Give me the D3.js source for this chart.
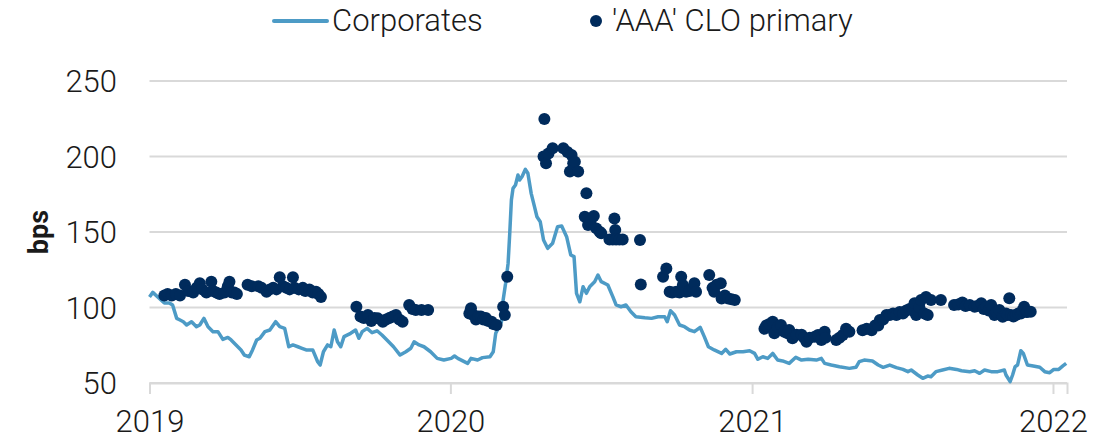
<!DOCTYPE html>
<html>
<head>
<meta charset="utf-8">
<script src="https://cdn.jsdelivr.net/npm/d3@7"></script>
<style>
  body { margin: 0; background: #fff; }
  svg text { font-family: Roboto, "Noto Sans", sans-serif; fill: #1a1a1a; font-weight: 300; }
</style>
</head>
<body>
<svg id="chart"></svg>
<script>
// Corporates spread, bps
var corpDates = [
  "2019-01-01","2019-01-05","2019-01-11","2019-01-19","2019-01-25","2019-01-29","2019-02-03","2019-02-07",
  "2019-02-11","2019-02-15","2019-02-21","2019-02-27","2019-03-03","2019-03-08","2019-03-13","2019-03-19",
  "2019-03-25","2019-03-31","2019-04-06","2019-04-10","2019-04-16","2019-04-22","2019-04-26","2019-05-02",
  "2019-05-06","2019-05-11","2019-05-15","2019-05-21","2019-05-27","2019-06-03","2019-06-08","2019-06-14",
  "2019-06-19","2019-06-24","2019-06-30","2019-07-05","2019-07-10","2019-07-18","2019-07-24","2019-07-27",
  "2019-07-31","2019-08-05","2019-08-09","2019-08-13","2019-08-17","2019-08-21","2019-08-25","2019-09-02",
  "2019-09-08","2019-09-12","2019-09-16","2019-09-22","2019-09-28","2019-10-04","2019-10-10","2019-10-16",
  "2019-10-24","2019-11-01","2019-11-08","2019-11-14","2019-11-18","2019-11-24","2019-11-30","2019-12-08",
  "2019-12-16","2019-12-24","2020-01-02","2020-01-06","2020-01-10","2020-01-22","2020-01-26","2020-02-03",
  "2020-02-09","2020-02-18","2020-02-22","2020-02-25","2020-02-29","2020-03-03","2020-03-05","2020-03-08",
  "2020-03-11","2020-03-13","2020-03-15","2020-03-17","2020-03-20","2020-03-23","2020-03-25","2020-03-28",
  "2020-04-01","2020-04-04","2020-04-08","2020-04-12","2020-04-15","2020-04-19","2020-04-23","2020-04-28",
  "2020-05-04","2020-05-10","2020-05-15","2020-05-21","2020-05-26","2020-05-30","2020-06-02","2020-06-06",
  "2020-06-10","2020-06-14","2020-06-18","2020-06-24","2020-06-28","2020-07-02","2020-07-10","2020-07-16",
  "2020-07-20","2020-07-26","2020-08-01","2020-08-07","2020-08-13","2020-08-24","2020-09-01","2020-09-09",
  "2020-09-17","2020-09-20","2020-09-24","2020-09-29","2020-10-05","2020-10-11","2020-10-17","2020-10-23",
  "2020-10-30","2020-11-04","2020-11-09","2020-11-16","2020-11-25","2020-11-30","2020-12-05","2020-12-13",
  "2020-12-21","2020-12-29","2021-01-04","2021-01-08","2021-01-14","2021-01-20","2021-01-26","2021-02-01",
  "2021-02-07","2021-02-15","2021-02-23","2021-03-02","2021-03-10","2021-03-20","2021-03-26","2021-03-30",
  "2021-04-07","2021-04-17","2021-04-29","2021-05-07","2021-05-11","2021-05-17","2021-05-27","2021-06-03",
  "2021-06-09","2021-06-17","2021-06-25","2021-07-03","2021-07-09","2021-07-13","2021-07-21","2021-07-27",
  "2021-08-02","2021-08-06","2021-08-12","2021-08-20","2021-08-28","2021-09-06","2021-09-12","2021-09-22",
  "2021-09-28","2021-10-04","2021-10-10","2021-10-18","2021-10-26","2021-11-03","2021-11-05","2021-11-10",
  "2021-11-13","2021-11-16","2021-11-19","2021-11-23","2021-11-26","2021-12-01","2021-12-08","2021-12-16",
  "2021-12-22","2021-12-28","2022-01-02","2022-01-08","2022-01-13","2022-01-17"
];
var corpValues = [
  107,110,107,103,103,101.6,92.8,91.7,
  90.6,88.4,90.6,87.3,88.4,92.8,87.3,84,
  84,78.9,80.2,78.5,75.2,71.9,68.5,67.4,
  71.9,78.5,79.6,84,85.1,90.6,87.3,86.2,
  74,75.2,74,73,71.9,71.9,64.1,61.9,
  70.7,75.2,74,85.1,77.3,74,80.7,82.9,
  85.1,79.6,84,86.2,83.3,84.6,81.8,78.5,
  74,68.5,70.7,73,77.3,75.2,74,70.7,
  66.3,65.2,66.3,67.9,66.3,63,66.3,65.2,
  66.8,67.4,70.7,82.9,87.3,90.6,105,116,
  129.2,149.1,171.2,178.9,181.1,187.8,184.4,186.7,
  191.5,188.9,175.6,166.8,160.1,156.8,144.7,139.2,
  142.5,153.5,154,146.9,134.8,133.7,109.4,103.8,
  113.8,109.4,113.8,117.1,121.5,117.1,114.9,107.2,
  101.7,100.5,101.7,97.2,93.9,93.2,92.8,93.9,
  93.9,90.6,97.9,95,88.4,87.3,85.1,84,
  86.9,80.7,74,71.9,69.6,72.3,69.2,70.7,
  70.7,71.4,69.6,65.7,67.4,66.3,69.6,65.2,
  64.6,63,67,65.2,65.7,65.2,66.3,63,
  61.9,60.8,59.7,60.4,64.1,65.2,64.6,61.9,
  60.4,61.9,60.2,59,57.5,58.6,55.3,53.1,
  54.6,54.2,57.5,58.6,59.7,59,58.1,57.5,
  58.1,56.4,58.6,57.5,57.5,58.6,55.3,50.9,
  55.3,60.8,61.9,71.4,69.6,61.9,61.3,60.4,
  57.5,56.8,59,59,61.3,63
];

// 'AAA' CLO primary, bps
var cloDates = [
  "2019-01-19","2019-01-23","2019-01-28","2019-02-02","2019-02-07","2019-02-13","2019-02-17","2019-02-23",
  "2019-02-27","2019-03-03","2019-03-06","2019-03-11","2019-03-17","2019-03-19","2019-03-23","2019-03-27",
  "2019-04-02","2019-04-06","2019-04-08","2019-04-11","2019-04-14","2019-04-17","2019-04-30","2019-05-05",
  "2019-05-13","2019-05-17","2019-05-23","2019-05-27","2019-05-31","2019-06-04","2019-06-08","2019-06-12",
  "2019-06-16","2019-06-20","2019-06-24","2019-06-26","2019-07-01","2019-07-06","2019-07-09","2019-07-14",
  "2019-07-18","2019-07-22","2019-07-25","2019-07-28",
  "2019-09-09","2019-09-14","2019-09-18","2019-09-23","2019-09-27","2019-10-01","2019-10-05","2019-10-11",
  "2019-10-15","2019-10-19","2019-10-23","2019-10-27","2019-10-31","2019-11-04","2019-11-12","2019-11-16",
  "2019-11-20","2019-11-27","2019-12-05",
  "2020-01-24","2020-01-26","2020-01-29","2020-02-01","2020-02-04","2020-02-07","2020-02-10","2020-02-13",
  "2020-02-16","2020-02-20","2020-02-22","2020-02-26","2020-03-05","2020-03-07","2020-03-10",
  "2020-04-23","2020-04-24","2020-04-26","2020-04-29","2020-05-04","2020-05-17","2020-05-22","2020-05-25",
  "2020-05-27","2020-05-29","2020-05-31","2020-06-04","2020-06-12","2020-06-14","2020-06-16","2020-06-19",
  "2020-06-23","2020-06-26","2020-06-30","2020-07-02","2020-07-12","2020-07-16","2020-07-18","2020-07-19",
  "2020-07-20","2020-07-24","2020-07-28","2020-08-18","2020-08-19",
  "2020-09-15","2020-09-19","2020-09-23","2020-09-26","2020-10-01","2020-10-05","2020-10-07","2020-10-09",
  "2020-10-13","2020-10-17","2020-10-21","2020-10-23","2020-10-25","2020-11-10","2020-11-14","2020-11-16",
  "2020-11-19","2020-11-24","2020-11-25","2020-11-29","2020-12-03","2020-12-07","2020-12-11",
  "2021-01-16","2021-01-18","2021-01-22","2021-01-26","2021-01-28","2021-02-01","2021-02-05","2021-02-09",
  "2021-02-13","2021-02-15","2021-02-19","2021-02-24","2021-03-02","2021-03-05","2021-03-08","2021-03-12",
  "2021-03-18","2021-03-22","2021-03-26","2021-03-30","2021-03-31","2021-04-13","2021-04-17","2021-04-21",
  "2021-04-25","2021-04-29","2021-05-15","2021-05-20","2021-05-26","2021-05-30","2021-06-03","2021-06-05",
  "2021-06-09","2021-06-13","2021-06-17","2021-06-21","2021-06-25","2021-06-29","2021-07-03","2021-07-07",
  "2021-07-11","2021-07-15","2021-07-17","2021-07-19","2021-07-23","2021-07-25","2021-07-29","2021-07-31",
  "2021-08-02","2021-08-06","2021-08-18","2021-09-03","2021-09-08","2021-09-13","2021-09-17","2021-09-22",
  "2021-09-28","2021-10-01","2021-10-06","2021-10-09","2021-10-12","2021-10-15","2021-10-18","2021-10-22",
  "2021-10-24","2021-10-28","2021-11-01","2021-11-05","2021-11-07","2021-11-09","2021-11-11","2021-11-14",
  "2021-11-17","2021-11-20","2021-11-23","2021-11-25","2021-11-27","2021-11-30","2021-12-01","2021-12-05"
];
var cloValues = [
  108,109,108,109,108,115,111,110,
  113,116,112,110,117,111,110,109,
  110,114,117,110,110,109,115,114,
  114,113,110.5,112,113,112,120,114,
  113,112,120,113,112,113,111,112,
  110,110.5,109,107,
  100.5,94,93,95,91,93,92.8,90.6,
  92,93,94,95,92,90.6,101.7,99,
  98.3,98.3,98.3,
  96,99.5,95,92,94,94,92,93,
  91,90.6,89,88.4,100.5,95,120.4,
  200,224.8,195.5,202,205.4,205.4,203,190,
  201,195.5,196.6,190,160.1,175.6,154.6,157,
  160.6,152.4,150.2,149.1,145.1,145,159,151.3,
  145,145,145.1,144.7,115.3,
  120.4,125.9,110.5,110,110.5,110,120.4,114.9,
  110.5,111,113,116,110.5,121.5,113,110.5,
  115,116,106,108,106,105.5,105,
  86,88,89,90.6,83,87,88.4,84,
  83,85.1,79.6,82,82,80,77.3,80,
  80.7,81.8,78.5,84,80,78.5,80,81.8,
  86,84,85,86,85,88,88,91.7,
  92,95,95,96,95,97,96,98,
  99,98,102.8,95,100,105,96,107,
  95,105,105,101.7,102,103.3,101,101.7,
  100.5,101,102.8,99,100.5,98,101.7,95,
  97,98.3,93.9,96,95,106.1,95,94,
  95,96,96.1,98,100.5,97,97.2,97.2
];

var yTicks = [50, 100, 150, 200, 250];
var xTickLabels = ["2019", "2020", "2021", "2022"];

var parseDate = d3.timeParse("%Y-%m-%d");
var corp = corpDates.map(function(d, i){ return {date: parseDate(d), value: corpValues[i]}; });
var clo = cloDates.map(function(d, i){ return {date: parseDate(d), value: cloValues[i]}; });

var width = 1115, height = 442;
var lineColor = "#4d9bc6", dotColor = "#002b5c", gridColor = "#d9d9d9";

var svg = d3.select("#chart")
    .attr("width", width)
    .attr("height", height);

var x = d3.scaleTime()
    .domain([parseDate("2019-01-01"), parseDate("2022-01-18")])
    .range([149.5, 1067]);
var y = d3.scaleLinear()
    .domain([50, 250])
    .range([383, 81]);

// gridlines
svg.append("g")
    .selectAll("line")
    .data(yTicks)
    .enter()
    .append("line")
    .attr("x1", x.range()[0])
    .attr("x2", x.range()[1])
    .attr("y1", function(d){ return y(d); })
    .attr("y2", function(d){ return y(d); })
    .attr("stroke", gridColor)
    .attr("stroke-width", 2);

// y labels
svg.append("g")
    .selectAll("text")
    .data(yTicks)
    .enter()
    .append("text")
    .attr("x", 117)
    .attr("y", function(d){ return y(d); })
    .attr("dy", "0.36em")
    .attr("text-anchor", "end")
    .style("font-size", "31px")
    .text(function(d){ return d; });

// x axis
var xAxis = d3.axisBottom(x)
    .tickValues(xTickLabels.map(function(d){ return parseDate(d + "-01-01"); }))
    .tickFormat(function(d, i){ return xTickLabels[i]; })
    .tickSize(11)
    .tickPadding(16);

var gx = svg.append("g")
    .attr("transform", "translate(0," + y(50) + ")")
    .call(xAxis);
gx.select(".domain").attr("stroke", gridColor).attr("stroke-width", 2);
gx.selectAll(".tick line").attr("stroke", gridColor).attr("stroke-width", 2);
gx.selectAll(".tick text")
    .style("font-size", "31px")
    .style("font-family", "Roboto, sans-serif")
    .style("font-weight", "300")
    .attr("fill", "#1a1a1a");

// y title
svg.append("text")
    .attr("transform", "translate(48," + 232 + ") rotate(-90)")
    .attr("text-anchor", "middle")
    .style("font-size", "27px")
    .style("font-weight", "bold")
    .text("bps");

// corporates line
var line = d3.line()
    .x(function(d){ return x(d.date); })
    .y(function(d){ return y(d.value); });

svg.append("path")
    .datum(corp)
    .attr("d", line)
    .attr("fill", "none")
    .attr("stroke", lineColor)
    .attr("stroke-width", 3.5)
    .attr("stroke-linejoin", "round");

// CLO dots
svg.append("g")
    .selectAll("circle")
    .data(clo)
    .enter()
    .append("circle")
    .attr("cx", function(d){ return x(d.date); })
    .attr("cy", function(d){ return y(d.value); })
    .attr("r", 6)
    .attr("fill", dotColor);

// legend
var legend = svg.append("g");
legend.append("line")
    .attr("x1", 274).attr("x2", 327)
    .attr("y1", 21).attr("y2", 21)
    .attr("stroke", lineColor)
    .attr("stroke-width", 4)
    .attr("stroke-linecap", "round");
legend.append("text")
    .attr("x", 332).attr("y", 31)
    .style("font-size", "31px")
    .text("Corporates");
legend.append("circle")
    .attr("cx", 596).attr("cy", 21)
    .attr("r", 6)
    .attr("fill", dotColor);
legend.append("text")
    .attr("x", 612).attr("y", 31)
    .style("font-size", "31px")
    .text("'AAA' CLO primary");
</script>
</body>
</html>
